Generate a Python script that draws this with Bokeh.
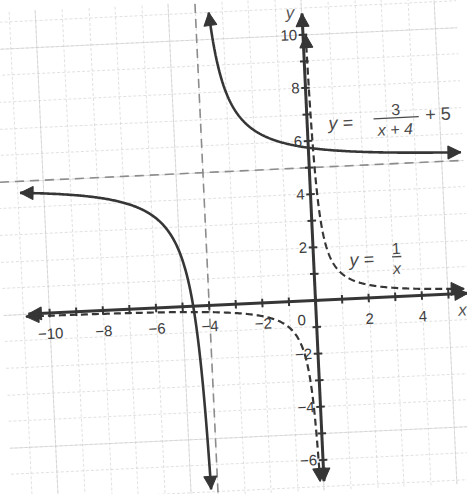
import numpy as np
from bokeh.plotting import figure
from bokeh.models import Range1d, Arrow, NormalHead, Grid, SingleIntervalTicker
from bokeh.core.properties import value
from bokeh.embed import file_html
from bokeh.resources import INLINE

# Graphed functions: y = a / (x - h) + k  and the parent y = 1 / x
num_a = 3
shift_h = -4
shift_k = 5

# Axis tick labels
x_ticks = [-10, -8, -6, -4, -2, 2, 4]
x_tick_labels = ["\u221210", "\u22128", "\u22126", "\u22124", "\u22122", "2", "4"]
y_ticks = [10, 8, 6, 4, 2, -2, -4, -6]
y_tick_labels = ["10", "8", "6", "4", "2", "\u22122", "\u22124", "\u22126"]
x_unit_marks = list(range(-10, 6))
y_unit_marks = list(range(-6, 11))

# Drawn extent of each branch (x limits)
left_branch_x = [-10.9, -4.252]
upper_branch_x = [-3.5, 5.72]
recip_right_x = [0.1, 5.6]
recip_left_x = [-10.9, -0.147]

# Axis extents
x_axis_span = [-10.8, 5.73]
y_axis_span = [-6.8, 10.8]

INK = "#363636"
FONT = value("Liberation Sans")


def shifted(x):
    return num_a / (x - shift_h) + shift_k


def recip(x):
    return 1.0 / x


def sample(lo, hi, pole, n=300):
    # denser sampling near the asymptote
    d_lo, d_hi = abs(lo - pole), abs(hi - pole)
    d = np.geomspace(min(d_lo, d_hi), max(d_lo, d_hi), n)
    sign = 1 if lo > pole else -1
    return np.sort(pole + sign * d)


# the page is drawn slightly tilted, like a scanned sheet of graph paper
tilt_css = (":host { overflow: hidden; }\n"
            ":host > div { transform: rotate(-2.7deg); transform-origin: 50% 50%; }")

p = figure(width=467, height=494,
           x_range=Range1d(-11.74, 5.81), y_range=Range1d(-7.15, 11.42),
           x_axis_location=None, y_axis_location=None,
           toolbar_location=None, output_backend="svg", min_border=0,
           background_fill_color="white", border_fill_color="white",
           outline_line_color=None, stylesheets=[tilt_css])

# faint graph-paper grid
for dim in (0, 1):
    p.add_layout(Grid(dimension=dim, ticker=SingleIntervalTicker(interval=1),
                      grid_line_color="#c8c8c8", grid_line_alpha=0.55,
                      grid_line_width=1, grid_line_dash="3 2"))

# asymptotes
p.line(x=[shift_h, shift_h], y=[-7.6, 11.8], line_color="#8c8c8c",
       line_width=1.6, line_dash="9 6")
p.line(x=[-12.2, 6.2], y=[shift_k, shift_k], line_color="#8c8c8c",
       line_width=1.6, line_dash="9 6")


def head():
    return NormalHead(size=13, fill_color=INK, line_color=INK)


def add_arrow_ends(xs, ys):
    p.add_layout(Arrow(end=head(), x_start=xs[-2], y_start=ys[-2],
                       x_end=xs[-1], y_end=ys[-1], line_width=0, line_alpha=0))
    p.add_layout(Arrow(end=head(), x_start=xs[1], y_start=ys[1],
                       x_end=xs[0], y_end=ys[0], line_width=0, line_alpha=0))


# axes with arrowheads at both ends
p.line(x=x_axis_span, y=[0, 0], line_color=INK, line_width=3)
p.line(x=[0, 0], y=y_axis_span, line_color=INK, line_width=3)
p.add_layout(Arrow(end=head(), start=head(), x_start=x_axis_span[0], y_start=0,
                   x_end=x_axis_span[1], y_end=0, line_width=0, line_alpha=0))
p.add_layout(Arrow(end=head(), start=head(), x_start=0, y_start=y_axis_span[0],
                   x_end=0, y_end=y_axis_span[1], line_width=0, line_alpha=0))

# unit tick marks
p.segment(x0=x_unit_marks, y0=[-0.16] * len(x_unit_marks),
          x1=x_unit_marks, y1=[0.16] * len(x_unit_marks),
          line_color=INK, line_width=2)
p.segment(x0=[-0.16] * len(y_unit_marks), y0=y_unit_marks,
          x1=[0.16] * len(y_unit_marks), y1=y_unit_marks,
          line_color=INK, line_width=2)

# parent function y = 1/x (dashed)
xr = sample(recip_right_x[0], recip_right_x[1], 0)
xl = sample(recip_left_x[0], recip_left_x[1], 0)
for xs in (xr, xl):
    p.line(x=xs, y=recip(xs), line_color=INK, line_width=2.2, line_dash="7 4")
    add_arrow_ends(xs, recip(xs))

# transformed function (solid)
xa = sample(left_branch_x[0], left_branch_x[1], shift_h)
xb = sample(upper_branch_x[0], upper_branch_x[1], shift_h)
for xs in (xa, xb):
    p.line(x=xs, y=shifted(xs), line_color=INK, line_width=2.6)
    add_arrow_ends(xs, shifted(xs))

# tick labels
p.text(x=x_ticks, y=[-0.78] * len(x_ticks), text=x_tick_labels,
       text_align="center", text_baseline="middle", text_font=FONT,
       text_font_size="15px", text_color="#3c3c3c")
p.text(x=[-0.22] * len(y_ticks), y=y_ticks, text=y_tick_labels,
       text_align="right", text_baseline="middle", text_font=FONT,
       text_font_size="15px", text_color="#3c3c3c")
p.text(x=[-0.55], y=[-0.72], text=["0"], text_align="center",
       text_baseline="middle", text_font=FONT, text_font_size="15px",
       text_color="#3c3c3c")

# axis names
p.text(x=[5.5], y=[-0.62], text=["x"], text_align="center",
       text_baseline="middle", text_font=FONT, text_font_style="italic",
       text_font_size="17px", text_color="#555555")
p.text(x=[-0.45], y=[10.85], text=["y"], text_align="center",
       text_baseline="middle", text_font=FONT, text_font_style="italic",
       text_font_size="17px", text_color="#555555")

# equation labels
EQ = "#4a4a4a"
p.text(x=[0.8], y=[6.62], text=["y ="], text_align="left",
       text_baseline="middle", text_font=FONT, text_font_style="italic",
       text_font_size="18px", text_color=EQ)
p.text(x=[3.35], y=[6.82], text=[str(num_a)], text_align="center",
       text_baseline="bottom", text_font=FONT, text_font_size="16px",
       text_color=EQ)
p.line(x=[2.5, 4.2], y=[6.72, 6.72], line_color=EQ, line_width=1.3)
p.text(x=[3.3], y=[6.6], text=["x + 4"], text_align="center",
       text_baseline="top", text_font=FONT, text_font_style="italic",
       text_font_size="16px", text_color=EQ)
p.text(x=[4.45], y=[6.78], text=["+ 5"], text_align="left",
       text_baseline="middle", text_font=FONT, text_font_size="18px",
       text_color=EQ)

p.text(x=[1.35], y=[1.45], text=["y ="], text_align="left",
       text_baseline="middle", text_font=FONT, text_font_style="italic",
       text_font_size="18px", text_color=EQ)
p.text(x=[3.12], y=[1.6], text=["1"], text_align="center",
       text_baseline="bottom", text_font=FONT, text_font_size="16px",
       text_color=EQ)
p.line(x=[2.95, 3.3], y=[1.5, 1.5], line_color=EQ, line_width=1.3)
p.text(x=[3.12], y=[1.38], text=["x"], text_align="center",
       text_baseline="top", text_font=FONT, text_font_style="italic",
       text_font_size="16px", text_color=EQ)

open("out.html", "w").write(file_html(p, INLINE))
